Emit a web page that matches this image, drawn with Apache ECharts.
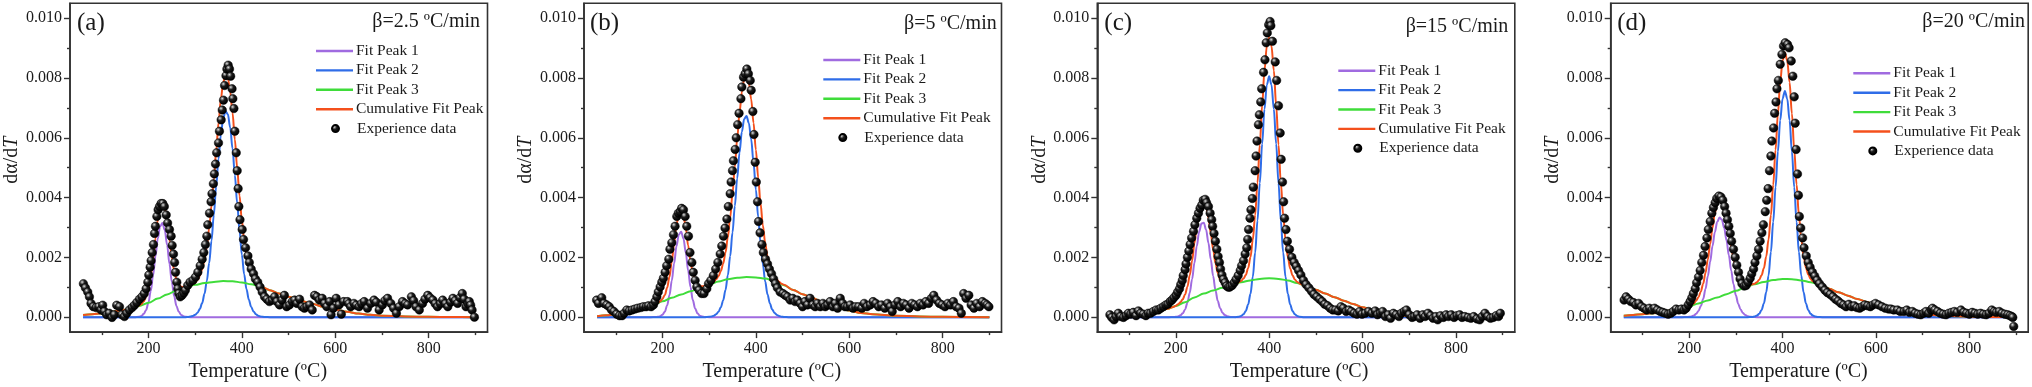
<!DOCTYPE html>
<html><head><meta charset="utf-8">
<script src="https://cdn.jsdelivr.net/npm/echarts@6/dist/echarts.min.js"></script>
<style>html,body{margin:0;padding:0;background:#fff}#c{width:2032px;height:387px}</style>
</head><body><div id="c"></div>
<script>
// ---------------- DATA (values in units of 1e-3, labels show real units) ----------------
const PANEL_LETTERS = ['(a)', '(b)', '(c)', '(d)'];
const PANEL_RATES = ['β=2.5 ºC/min', 'β=5 ºC/min', 'β=15 ºC/min', 'β=20 ºC/min'];
const SERIES_NAMES = ['Fit Peak 1', 'Fit Peak 2', 'Fit Peak 3', 'Cumulative Fit Peak', 'Experience data'];
const X_MAJOR_TICKS = [200, 400, 600, 800];
const X_MINOR_TICKS = [100, 300, 500, 700, 900];
const Y_MAJOR_TICKS = [0, 2, 4, 6, 8, 10];
const Y_MINOR_TICKS = [1, 3, 5, 7, 9];

const A_EXP = [[60.7,1.12],[65,0.98],[70,0.84],[73.6,0.68],[77,0.46],[82,0.35],[88,0.32],[93.6,0.35],[98.6,0.24],[102,0.40],[105.7,0.19],[110.7,0.08],[116,0.13],[122,-0.01],[127,0.08],[132,0.40],[138,0.35],[143,0.08],[148.6,0.02],[153.6,0.13],[159,0.24],[165,0.32],[170,0.40],[175,0.49],[180.7,0.60],[186,0.68],[191,0.79],[195,0.95],[198.6,1.17],[200.7,1.41],[203.6,1.67],[205.7,1.89],[208,2.16],[210.7,2.43],[213,2.80],[215,3.04],[218,3.37],[220.7,3.59],[223.6,3.70],[227,3.80],[230.7,3.80],[234,3.70],[238,3.42],[241,3.15],[245,2.93],[248.6,2.71],[250.7,2.40],[253.6,2.11],[256,1.83],[258,1.50],[260.7,1.17],[263,0.95],[265,0.79],[268,0.68],[272,0.73],[275.7,0.81],[279,0.90],[284,1.06],[289,1.17],[295,1.23],[300.7,1.34],[305.7,1.50],[310.7,1.72],[315,1.94],[318.6,2.16],[322,2.43],[325,2.71],[327,3.09],[330.7,3.48],[334,3.86],[336,4.13],[339,4.46],[341,4.79],[343.6,5.12],[346,5.50],[350,5.83],[352,6.22],[355.7,6.60],[358,6.93],[360.7,7.26],[363,7.75],[366,8.08],[368,8.30],[370.7,8.43],[373.6,8.30],[376,8.06],[379,7.64],[380.7,7.31],[383,6.98],[385,6.22],[388,5.50],[390,4.90],[392,4.30],[393.6,3.70],[396,3.26],[400.7,2.93],[403.6,2.60],[408,2.32],[413,2.05],[416,1.83],[420,1.61],[425,1.45],[429,1.28],[434,1.17],[439,1.01],[443.6,0.84],[448.6,0.68],[453.6,0.60],[459,0.52],[465,0.57],[470,0.68],[475,0.52],[480.7,0.41],[486,0.57],[491,0.73],[496,0.35],[502,0.41],[508,0.52],[513,0.57],[518,0.46],[523.6,0.60],[529,0.35],[534,0.30],[539,0.35],[545,0.41],[550.7,0.24],[555.7,0.73],[560.7,0.68],[566,0.57],[572,0.63],[577,0.46],[582,0.35],[588,0.52],[591,0.08],[596,0.30],[602,0.63],[608,0.41],[613,0.10],[618,0.52],[626,0.52],[629,0.45],[633,0.35],[640,0.46],[645,0.40],[651,0.35],[656,0.45],[662,0.52],[669,0.30],[676,0.46],[683,0.57],[688,0.50],[694,0.24],[701,0.41],[706,0.55],[712,0.63],[719,0.46],[725,0.30],[731,0.13],[737,0.35],[744,0.52],[750,0.45],[755,0.41],[763,0.68],[768,0.55],[773,0.35],[780,0.24],[787,0.46],[792,0.60],[798,0.73],[803,0.65],[809,0.57],[814,0.45],[819,0.35],[825,0.45],[830,0.57],[836,0.45],[841,0.35],[847,0.50],[852,0.63],[857,0.55],[862,0.46],[867,0.65],[872,0.79],[876,0.60],[880,0.35],[884,0.45],[887,0.52],[890,0.40],[893,0.24],[898,0.0]];
const A_P1 = [[60,0],[170,0],[180,0.015],[185,0.04],[190,0.11],[195,0.24],[200,0.49],[205,0.88],[210,1.41],[215,2.04],[220,2.63],[225,3.04],[230,3.15],[235,2.91],[240,2.41],[245,1.78],[250,1.18],[255,0.70],[260,0.37],[265,0.18],[270,0.075],[275,0.03],[280,0.01],[290,0],[900,0]];
const A_P2 = [[60,0],[280,0],[285,0.008],[290,0.018],[295,0.04],[300,0.077],[305,0.15],[310,0.27],[315,0.47],[320,0.78],[325,1.21],[330,1.81],[335,2.56],[340,3.43],[345,4.37],[350,5.30],[355,6.09],[360,6.65],[365,6.89],[370,6.79],[375,6.35],[380,5.64],[385,4.75],[390,3.81],[395,2.89],[400,2.09],[405,1.43],[410,0.93],[415,0.58],[420,0.34],[425,0.19],[430,0.10],[435,0.05],[440,0.024],[445,0.011],[450,0.005],[460,0],[900,0]];
const A_P3 = [[60,0.07],[80,0.10],[100,0.13],[120,0.17],[140,0.22],[160,0.28],[180,0.37],[200,0.48],[220,0.62],[240,0.76],[260,0.89],[280,0.99],[300,1.08],[320,1.14],[340,1.18],[360,1.21],[380,1.20],[400,1.16],[420,1.10],[440,1.02],[460,0.90],[480,0.79],[500,0.68],[525,0.56],[550,0.45],[575,0.35],[600,0.25],[625,0.18],[650,0.12],[675,0.08],[700,0.05],[750,0.02],[800,0.01],[850,0.003],[900,0]];
const A_CUM = [[60,0.07],[80,0.10],[100,0.13],[120,0.17],[140,0.22],[160,0.28],[170,0.32],[180,0.39],[185,0.44],[190,0.53],[195,0.69],[200,0.97],[205,1.40],[210,1.96],[215,2.63],[220,3.25],[225,3.70],[230,3.84],[235,3.64],[240,3.17],[245,2.57],[250,2.01],[255,1.56],[260,1.26],[265,1.10],[270,1.02],[275,1.00],[280,1.00],[285,1.02],[290,1.06],[295,1.10],[300,1.16],[305,1.25],[310,1.38],[315,1.60],[320,1.92],[325,2.36],[330,2.97],[335,3.73],[340,4.61],[345,5.56],[350,6.50],[355,7.29],[360,7.86],[365,8.10],[370,8.00],[375,7.55],[380,6.84],[385,5.94],[390,4.99],[395,4.06],[400,3.25],[405,2.58],[410,2.06],[415,1.70],[420,1.44],[425,1.27],[430,1.16],[435,1.09],[440,1.04],[445,1.00],[450,0.97],[455,0.93],[460,0.90],[480,0.79],[500,0.68],[525,0.56],[550,0.45],[575,0.35],[600,0.25],[625,0.18],[650,0.12],[675,0.08],[700,0.05],[750,0.02],[800,0.01],[850,0.003],[900,0]];

const B_EXP = [[59,0.57],[63,0.46],[70,0.65],[75,0.46],[80.7,0.41],[86,0.35],[91,0.24],[96,0.19],[102,0.10],[108,0.05],[113.6,0.05],[118,0.13],[123.6,0.24],[129,0.21],[135,0.24],[141,0.27],[147,0.30],[153.6,0.32],[159,0.35],[165,0.35],[170,0.38],[175.7,0.35],[180.7,0.41],[184,0.52],[188,0.68],[191,0.84],[195,1.01],[198.6,1.17],[202,1.30],[205.7,1.50],[209,1.72],[213.6,1.94],[216,2.27],[220,2.49],[223.6,2.76],[227,3.04],[230.7,3.37],[234,3.48],[238,3.53],[241,3.64],[245,3.59],[248.6,3.37],[252,3.04],[255.7,2.71],[259,2.16],[263,1.83],[266,1.50],[270,1.23],[273.6,1.01],[278.6,0.90],[284,0.79],[289,0.79],[295,0.95],[298.6,1.12],[303.6,1.23],[309,1.39],[314,1.61],[318.6,1.83],[323.6,2.11],[327,2.38],[330.7,2.71],[334,2.98],[338,3.28],[341,3.70],[345,4.13],[347,4.52],[350,4.90],[352,5.23],[355.7,5.61],[358,6.00],[361,6.44],[364,6.82],[368,7.31],[370,7.70],[373.6,8.03],[377,8.14],[380.7,8.30],[384,8.14],[388,7.92],[390,7.59],[393.6,6.88],[396,6.11],[398.6,5.18],[401,4.52],[403.6,3.86],[405.7,3.20],[409,2.82],[413,2.43],[416,2.16],[420.7,1.94],[425,1.78],[429,1.61],[433.6,1.45],[438,1.28],[442,1.12],[446,0.98],[452,0.84],[458,0.79],[463,0.73],[468,0.68],[473.6,0.57],[479,0.63],[484,0.52],[489,0.57],[495,0.46],[500,0.35],[505,0.52],[510.7,0.41],[516,0.63],[522,0.41],[527,0.35],[532,0.46],[538,0.35],[543.6,0.46],[548.6,0.35],[553.6,0.41],[559,0.52],[565,0.35],[570,0.46],[575,0.30],[580.7,0.63],[586,0.46],[591,0.35],[596,0.35],[602,0.41],[608,0.30],[613.6,0.35],[620,0.35],[627,0.30],[632,0.46],[638,0.35],[645,0.41],[651,0.52],[657,0.46],[663,0.35],[669,0.41],[676,0.30],[682,0.46],[688,0.35],[692,0.19],[698,0.41],[704,0.52],[710,0.35],[716,0.46],[722,0.41],[728,0.30],[734,0.46],[740,0.41],[746,0.35],[752,0.46],[758,0.41],[764,0.52],[770,0.46],[776,0.63],[781,0.73],[787,0.57],[793,0.46],[799,0.41],[805,0.35],[811,0.46],[817,0.41],[823,0.52],[829,0.35],[835,0.30],[840,0.13],[845,0.79],[850,0.63],[856,0.73],[861,0.41],[867,0.30],[873,0.46],[879,0.35],[885,0.52],[891,0.46],[895,0.41],[899,0.35]];
const B_P1 = [[60,0],[175,0],[185,0.003],[190,0.01],[195,0.03],[200,0.08],[205,0.18],[210,0.39],[215,0.73],[220,1.22],[225,1.80],[230,2.37],[235,2.76],[240,2.86],[245,2.63],[250,2.15],[255,1.56],[260,1.01],[265,0.57],[270,0.29],[275,0.13],[280,0.05],[285,0.02],[290,0.006],[300,0],[900,0]];
const B_P2 = [[60,0],[290,0],[300,0.011],[305,0.024],[310,0.049],[315,0.098],[320,0.18],[325,0.33],[330,0.56],[335,0.91],[340,1.40],[345,2.04],[350,2.83],[355,3.72],[360,4.64],[365,5.50],[370,6.20],[375,6.63],[380,6.73],[385,6.49],[390,5.95],[395,5.17],[400,4.27],[405,3.35],[410,2.50],[415,1.77],[420,1.19],[425,0.76],[430,0.46],[435,0.26],[440,0.14],[445,0.075],[450,0.037],[455,0.017],[460,0.007],[470,0],[900,0]];
const B_P3 = [[60,0.03],[80,0.06],[100,0.10],[120,0.15],[140,0.21],[160,0.29],[180,0.40],[200,0.53],[220,0.65],[240,0.76],[260,0.87],[280,0.98],[300,1.09],[320,1.19],[340,1.27],[360,1.32],[380,1.34],[400,1.33],[420,1.29],[440,1.20],[460,1.07],[480,0.91],[500,0.77],[520,0.65],[540,0.53],[560,0.41],[580,0.30],[600,0.22],[625,0.14],[650,0.10],[700,0.05],[750,0.02],[800,0.01],[900,0]];
const B_CUM = [[60,0.03],[80,0.06],[100,0.10],[120,0.15],[140,0.21],[160,0.29],[170,0.34],[180,0.40],[185,0.43],[190,0.48],[195,0.53],[200,0.61],[205,0.74],[210,0.98],[215,1.35],[220,1.87],[225,2.48],[230,3.08],[235,3.49],[240,3.62],[245,3.42],[250,2.97],[255,2.40],[260,1.88],[265,1.47],[270,1.22],[275,1.08],[280,1.03],[285,1.03],[290,1.05],[295,1.06],[300,1.10],[305,1.14],[310,1.19],[315,1.27],[320,1.37],[325,1.54],[330,1.79],[335,2.16],[340,2.67],[345,3.32],[350,4.13],[355,5.03],[360,5.96],[365,6.83],[370,7.53],[375,7.97],[380,8.07],[385,7.83],[390,7.29],[395,6.50],[400,5.60],[405,4.67],[410,3.81],[415,3.07],[420,2.48],[425,2.03],[430,1.71],[435,1.48],[440,1.34],[445,1.25],[450,1.18],[455,1.12],[460,1.08],[480,0.91],[500,0.77],[520,0.65],[540,0.53],[560,0.41],[580,0.30],[600,0.22],[625,0.14],[650,0.10],[700,0.05],[750,0.02],[800,0.01],[900,0]];

const C_EXP = [[59,0.08],[63,-0.01],[68,-0.09],[72,0.02],[77,0.13],[82,0.02],[88,-0.01],[93.6,0.05],[98.6,0.13],[103.6,0.10],[109,0.16],[115,0.05],[120,0.21],[125,0.13],[130.7,0.10],[136,0.05],[141,0.13],[146,0.13],[152,0.19],[158,0.24],[163,0.24],[168,0.30],[173.6,0.35],[178.6,0.41],[183,0.43],[188,0.52],[192,0.57],[196,0.65],[200.7,0.73],[204,0.84],[208,0.95],[210.7,1.09],[214,1.23],[216,1.39],[220,1.59],[222,1.78],[225,2.00],[228,2.21],[230.7,2.43],[234,2.65],[238,2.87],[241,3.09],[245,3.31],[248.6,3.48],[252,3.64],[255.7,3.75],[259,3.91],[263,3.94],[266,3.83],[270,3.70],[273.6,3.48],[277,3.26],[279,3.04],[282,2.80],[285,2.54],[288,2.27],[290.7,2.03],[293.6,1.83],[296,1.61],[299,1.41],[302,1.26],[305.7,1.15],[309,1.04],[313,1.00],[316,1.01],[320.7,1.06],[325,1.15],[329,1.26],[333.6,1.39],[338,1.56],[341,1.72],[345,1.89],[348.6,2.11],[352,2.32],[354,2.60],[356,2.93],[359,3.31],[361,3.59],[364,3.97],[366,4.35],[370,4.90],[372,5.39],[374,5.89],[377,6.44],[379,6.77],[382,7.20],[384,7.64],[388,8.19],[391,8.61],[393.6,9.18],[396,9.51],[399,9.78],[402,9.89],[403.6,9.75],[407,9.23],[413,8.54],[416,7.92],[420,7.07],[423.6,6.16],[425.7,5.28],[428.6,4.52],[431,3.86],[433,3.31],[436,2.93],[439,2.54],[443.6,2.27],[448.6,2.00],[453.6,1.83],[458,1.70],[463,1.56],[468,1.41],[473.6,1.23],[479,1.09],[485,0.98],[490.7,0.87],[496,0.76],[502,0.68],[508,0.60],[513.6,0.52],[519,0.43],[525,0.38],[530.7,0.30],[536,0.24],[542,0.24],[548,0.21],[553.6,0.35],[559,0.30],[565,0.19],[570.7,0.24],[576,0.19],[582,0.13],[588,0.10],[593.6,0.19],[599,0.10],[605.7,0.13],[613,0.19],[620,0.13],[627,0.21],[632,0.08],[638,0.13],[643,0.19],[649,0.02],[655,0.08],[660,-0.04],[666,0.13],[672,0.08],[678,0.02],[683,0.13],[689,0.19],[694,0.24],[700,0.08],[706,-0.01],[711,0.02],[717,0.08],[723,-0.04],[729,0.08],[734,0.02],[740,0.13],[746,0.05],[751,-0.04],[757,0.02],[761,-0.09],[767,0.05],[773,-0.01],[779,0.08],[784,0.02],[790,0.08],[796,-0.01],[802,0.05],[808,0.08],[813,-0.01],[819,0.02],[826,-0.01],[832,-0.04],[838,0.02],[845,-0.06],[851,-0.09],[856,0.02],[862,0.13],[868,0.02],[874,-0.04],[880,-0.01],[886,0.05],[891,0.02],[895,0.13]];
const C_P1 = [[60,0],[185,0],[195,0.003],[200,0.01],[205,0.025],[210,0.06],[215,0.13],[220,0.26],[225,0.48],[230,0.82],[235,1.27],[240,1.82],[245,2.37],[250,2.85],[255,3.13],[260,3.16],[265,2.92],[270,2.48],[275,1.93],[280,1.38],[285,0.90],[290,0.54],[295,0.30],[300,0.15],[305,0.07],[310,0.03],[315,0.011],[320,0.004],[330,0],[900,0]];
const C_P2 = [[60,0],[325,0],[335,0.017],[340,0.042],[345,0.097],[350,0.21],[355,0.42],[360,0.78],[365,1.35],[370,2.16],[375,3.23],[380,4.49],[385,5.80],[390,6.96],[395,7.77],[400,8.06],[405,7.77],[410,6.96],[415,5.80],[420,4.49],[425,3.23],[430,2.16],[435,1.35],[440,0.78],[445,0.42],[450,0.21],[455,0.097],[460,0.042],[465,0.017],[475,0],[900,0]];
const C_P3 = [[60,0.02],[80,0.03],[100,0.05],[120,0.08],[140,0.12],[160,0.19],[180,0.27],[200,0.37],[220,0.50],[240,0.66],[260,0.79],[280,0.89],[300,0.98],[320,1.08],[340,1.17],[360,1.23],[380,1.28],[400,1.30],[420,1.28],[440,1.23],[460,1.14],[480,1.03],[500,0.92],[520,0.79],[540,0.67],[560,0.55],[580,0.44],[600,0.33],[620,0.24],[640,0.16],[660,0.10],[680,0.06],[700,0.04],[750,0.01],[800,0],[900,0]];
const C_CUM = [[60,0.02],[80,0.03],[100,0.05],[120,0.08],[140,0.12],[160,0.19],[180,0.27],[185,0.29],[190,0.32],[195,0.34],[200,0.38],[205,0.43],[210,0.50],[215,0.60],[220,0.76],[225,1.02],[230,1.40],[235,1.89],[240,2.48],[245,3.06],[250,3.58],[255,3.89],[260,3.95],[265,3.74],[270,3.32],[275,2.80],[280,2.27],[285,1.81],[290,1.48],[295,1.26],[300,1.13],[305,1.08],[310,1.06],[315,1.07],[320,1.08],[325,1.10],[330,1.13],[335,1.17],[340,1.21],[345,1.29],[350,1.41],[355,1.64],[360,2.01],[365,2.59],[370,3.42],[375,4.50],[380,5.77],[385,7.09],[390,8.25],[395,9.07],[400,9.36],[405,9.07],[410,8.25],[415,7.09],[420,5.77],[425,4.50],[430,3.42],[435,2.59],[440,2.01],[445,1.63],[450,1.40],[455,1.26],[460,1.18],[465,1.13],[470,1.09],[475,1.06],[480,1.03],[500,0.92],[520,0.79],[540,0.67],[560,0.55],[580,0.44],[600,0.33],[620,0.24],[640,0.16],[660,0.10],[680,0.06],[700,0.04],[750,0.01],[800,0],[900,0]];

const D_EXP = [[60.7,0.57],[65,0.68],[70,0.60],[75,0.52],[80.7,0.49],[86,0.41],[92,0.46],[98,0.35],[103.6,0.30],[109,0.24],[115,0.30],[120.7,0.24],[126,0.30],[132,0.24],[138,0.19],[143.6,0.16],[149,0.13],[155,0.10],[160.7,0.13],[166,0.19],[172,0.27],[178,0.24],[183.6,0.27],[189,0.24],[193.6,0.30],[198,0.41],[202,0.52],[205.7,0.65],[209,0.79],[213,0.95],[216,1.15],[220,1.34],[223.6,1.56],[227,1.83],[230.7,2.07],[234,2.36],[238,2.65],[241,2.93],[245,3.20],[248.6,3.48],[252,3.67],[255.7,3.83],[259,3.97],[263.6,4.05],[268,4.02],[272,3.91],[276,3.70],[279,3.48],[282,3.26],[285,3.04],[288,2.80],[291,2.54],[295,2.27],[298.6,2.00],[302,1.74],[305.7,1.50],[309,1.28],[313,1.12],[318,1.04],[322,1.06],[326,1.17],[330.7,1.30],[334,1.45],[338,1.61],[341,1.83],[345,2.05],[348.6,2.27],[352,2.54],[355.7,2.82],[359,3.09],[363,3.53],[366,3.91],[369,4.30],[372,4.90],[375,5.39],[377,5.89],[380.7,6.33],[383,6.82],[386,7.20],[388,7.64],[391,7.92],[395,8.46],[398.6,8.79],[402,9.07],[405.7,9.18],[410.7,9.12],[414,9.01],[418.6,8.57],[422,8.06],[425,7.37],[427,6.49],[429,5.61],[432,4.79],[434,4.08],[436,3.37],[439,2.98],[443,2.65],[446,2.32],[450.7,2.05],[455,1.83],[459,1.67],[464,1.50],[469,1.37],[474,1.23],[479,1.12],[485,1.01],[490.7,0.90],[496,0.82],[502,0.76],[508,0.68],[513.6,0.60],[519,0.54],[525,0.46],[530.7,0.41],[536,0.35],[542,0.43],[548,0.35],[553.6,0.38],[559,0.32],[565,0.30],[570.7,0.35],[576,0.41],[582,0.38],[588,0.35],[593.6,0.41],[599,0.46],[605.7,0.41],[613,0.35],[620,0.30],[627,0.27],[632,0.27],[638,0.24],[646,0.24],[652,0.19],[660,0.19],[666,0.24],[672,0.16],[678,0.19],[684,0.13],[690,0.10],[696,0.08],[702,0.13],[707,0.19],[713,0.13],[718,0.24],[721,0.30],[726,0.24],[732,0.19],[738,0.13],[744,0.10],[750,0.08],[756,0.13],[762,0.16],[768,0.19],[774,0.16],[782,0.24],[788,0.16],[794,0.13],[800,0.10],[806,0.16],[812,0.13],[818,0.10],[824,0.13],[830,0.10],[836,0.08],[842,0.13],[848,0.24],[853,0.19],[858,0.16],[864,0.19],[870,0.13],[876,0.10],[882,0.08],[887,0.05],[891,0.02],[893,-0.01],[895,-0.31]];
const D_P1 = [[60,0],[185,0],[195,0.004],[200,0.011],[205,0.025],[210,0.054],[215,0.11],[220,0.21],[225,0.37],[230,0.61],[235,0.94],[240,1.37],[245,1.86],[250,2.38],[255,2.84],[260,3.18],[265,3.33],[270,3.26],[275,2.99],[280,2.57],[285,2.07],[290,1.56],[295,1.10],[300,0.73],[305,0.45],[310,0.26],[315,0.14],[320,0.072],[325,0.034],[330,0.015],[335,0.006],[345,0],[900,0]];
const D_P2 = [[60,0],[325,0],[335,0.009],[340,0.022],[345,0.052],[350,0.11],[355,0.24],[360,0.46],[365,0.83],[370,1.39],[375,2.18],[380,3.19],[385,4.35],[390,5.54],[395,6.59],[400,7.31],[405,7.57],[410,7.31],[415,6.59],[420,5.54],[425,4.35],[430,3.19],[435,2.18],[440,1.39],[445,0.83],[450,0.46],[455,0.24],[460,0.11],[465,0.052],[470,0.022],[475,0.009],[485,0],[900,0]];
const D_P3 = [[60,0.05],[80,0.07],[100,0.10],[120,0.13],[140,0.17],[160,0.22],[180,0.28],[200,0.36],[220,0.46],[240,0.56],[260,0.66],[280,0.77],[300,0.88],[320,1.00],[340,1.10],[360,1.18],[380,1.24],[400,1.28],[420,1.27],[440,1.23],[460,1.17],[480,1.08],[500,0.95],[520,0.83],[540,0.72],[560,0.61],[580,0.51],[600,0.41],[625,0.31],[650,0.22],[675,0.15],[700,0.10],[750,0.04],[800,0.015],[850,0.005],[900,0]];
const D_CUM = [[60,0.05],[80,0.07],[100,0.10],[120,0.13],[140,0.17],[160,0.22],[180,0.28],[185,0.30],[190,0.32],[195,0.34],[200,0.37],[205,0.42],[210,0.46],[215,0.55],[220,0.67],[225,0.86],[230,1.12],[235,1.48],[240,1.93],[245,2.45],[250,2.99],[255,3.48],[260,3.84],[265,4.02],[270,3.98],[275,3.73],[280,3.34],[285,2.87],[290,2.38],[295,1.95],[300,1.61],[305,1.36],[310,1.20],[315,1.11],[320,1.07],[325,1.06],[330,1.07],[335,1.10],[340,1.12],[345,1.17],[350,1.25],[355,1.40],[360,1.64],[365,2.03],[370,2.60],[375,3.41],[380,4.43],[385,5.60],[390,6.80],[395,7.86],[400,8.59],[405,8.85],[410,8.59],[415,7.86],[420,6.81],[425,5.61],[430,4.44],[435,3.42],[440,2.62],[445,2.05],[450,1.66],[455,1.43],[460,1.28],[465,1.20],[470,1.15],[475,1.11],[480,1.08],[500,0.95],[520,0.83],[540,0.72],[560,0.61],[580,0.51],[600,0.41],[625,0.31],[650,0.22],[675,0.15],[700,0.10],[750,0.04],[800,0.015],[850,0.005],[900,0]];

const PANEL_DATA = [
  [A_P1, A_P2, A_P3, A_CUM, A_EXP],
  [B_P1, B_P2, B_P3, B_CUM, B_EXP],
  [C_P1, C_P2, C_P3, C_CUM, C_EXP],
  [D_P1, D_P2, D_P3, D_CUM, D_EXP]
];

// ---------------- LAYOUT & STYLE ----------------
const SERIF = "'Liberation Serif', 'Times New Roman', serif";
const AX = '#333333';
const TXT = '#1a1a1a';
const LINE_COLORS = ['#a06be0', '#2f6de8', '#3fdc3a', '#f4501c'];
const GRID_LEFT = [70, 584, 1097.3, 1610.7];
const GRID_TOP = 3.3, GRID_W = 417.5, GRID_H = 334;
const X_MIN = 32, X_MAX = 926, Y_MIN = -0.5, Y_MAX = 10.5;
const LETTER_X = [77, 590, 1104.3, 1617.2];
const LETTER_Y = [11, 11, 11, 11];
const RATE_RIGHT = [480, 996.7, 1508.3, 2025];
const RATE_Y = [12, 14, 17, 12];
const XNAME_SHIFT = [21, 21, 7, 21];
const LEGEND_LEFT = [316, 823.3, 1338.3, 1853.3];
const LEGEND_ROW1 = [51, 60, 70.7, 73.3];
const ROW_STEP = 19.4;
const LINE_ICON = 'path://M0,0H37V2.4H0Z';

const ballColor = {
  type: 'radial', x: 0.36, y: 0.32, r: 0.62,
  colorStops: [
    { offset: 0, color: '#e8e8e8' },
    { offset: 0.18, color: '#8a8a8a' },
    { offset: 0.45, color: '#1c1c1c' },
    { offset: 1, color: '#000000' }
  ]
};

const grids = [], xAxes = [], yAxes = [], series = [], legends = [], graphics = [];
for (let i = 0; i < 4; i++) {
  grids.push({ left: GRID_LEFT[i], top: GRID_TOP, width: GRID_W, height: GRID_H,
    show: true, borderColor: AX, borderWidth: 1.6, backgroundColor: '#fff', containLabel: false });
  // main x
  xAxes.push({ gridIndex: i, type: 'value', min: X_MIN, max: X_MAX, position: 'bottom',
    axisLine: { show: true, onZero: false, lineStyle: { color: AX, width: 1.6 } },
    axisTick: { show: true, length: 6, customValues: X_MAJOR_TICKS, lineStyle: { color: AX, width: 1.4 } },
    axisLabel: { customValues: X_MAJOR_TICKS, margin: 9, fontFamily: SERIF, fontSize: 16, color: TXT },
    splitLine: { show: false },
    name: 'Temperature (ºC)', nameLocation: 'middle', nameGap: 25,
    nameTextStyle: { fontFamily: SERIF, fontSize: 20, color: TXT, padding: [0, 2 * XNAME_SHIFT[i], 0, 0] } });
  // minor x
  xAxes.push({ gridIndex: i, type: 'value', min: X_MIN, max: X_MAX, position: 'bottom',
    axisLine: { show: false, onZero: false },
    axisTick: { show: true, length: 3, customValues: X_MINOR_TICKS, lineStyle: { color: AX, width: 1.4 } },
    axisLabel: { show: false }, splitLine: { show: false } });
  // main y
  yAxes.push({ gridIndex: i, type: 'value', min: Y_MIN, max: Y_MAX, position: 'left',
    axisLine: { show: true, onZero: false, lineStyle: { color: AX, width: 1.6 } },
    axisTick: { show: true, length: 6, customValues: Y_MAJOR_TICKS, lineStyle: { color: AX, width: 1.4 } },
    axisLabel: { customValues: Y_MAJOR_TICKS, margin: 8, fontFamily: SERIF, fontSize: 16, color: TXT,
      formatter: v => (v / 1000).toFixed(3) },
    splitLine: { show: false },
    name: 'dα/d{it|T}', nameLocation: 'middle', nameGap: 46, nameRotate: 90,
    nameTextStyle: { fontFamily: SERIF, fontSize: 20, color: TXT, padding: [0, 0, 0, 15],
      rich: { it: { fontFamily: SERIF, fontSize: 20, fontStyle: 'italic', color: TXT } } } });
  // minor y
  yAxes.push({ gridIndex: i, type: 'value', min: Y_MIN, max: Y_MAX, position: 'left',
    axisLine: { show: false, onZero: false },
    axisTick: { show: true, length: 3, customValues: Y_MINOR_TICKS, lineStyle: { color: AX, width: 1.4 } },
    axisLabel: { show: false }, splitLine: { show: false } });

  const d = PANEL_DATA[i];
  for (let k = 0; k < 4; k++) {
    series.push({ type: 'line', name: SERIES_NAMES[k], xAxisIndex: 2 * i, yAxisIndex: 2 * i,
      data: d[k], symbol: 'none', showSymbol: false, smooth: 0.35, smoothMonotone: 'x',
      lineStyle: { color: LINE_COLORS[k], width: 2 }, itemStyle: { color: LINE_COLORS[k] },
      z: 2 + k, silent: true });
  }
  series.push({ type: 'scatter', name: SERIES_NAMES[4], xAxisIndex: 2 * i, yAxisIndex: 2 * i,
    data: d[4], symbol: 'circle', symbolSize: 8.5,
    itemStyle: { color: ballColor, borderColor: '#000', borderWidth: 0.5, opacity: 1 }, z: 8, silent: true });

  legends.push({ orient: 'vertical', left: LEGEND_LEFT[i], top: LEGEND_ROW1[i] - 8, padding: 0,
    itemWidth: 37, itemHeight: 14, itemGap: ROW_STEP - 16, selectedMode: false,
    data: SERIES_NAMES.slice(0, 4).map(n => ({ name: n, icon: LINE_ICON })),
    textStyle: { fontFamily: SERIF, fontSize: 15.5, lineHeight: 16, color: TXT, padding: [0, 0, 0, -2] } });
  legends.push({ orient: 'vertical', left: LEGEND_LEFT[i] + 15, top: LEGEND_ROW1[i] + 4 * ROW_STEP - 8, padding: 0,
    itemWidth: 7, itemHeight: 7, selectedMode: false, data: [{ name: SERIES_NAMES[4], icon: 'circle' }],
    textStyle: { fontFamily: SERIF, fontSize: 15.5, lineHeight: 16, color: TXT, padding: [0, 0, 0, 13] } });

  graphics.push({ type: 'text', x: LETTER_X[i], y: LETTER_Y[i], z: 20,
    style: { text: PANEL_LETTERS[i], font: '25px ' + SERIF, fill: TXT, align: 'left', verticalAlign: 'top' } });
  graphics.push({ type: 'text', x: RATE_RIGHT[i], y: RATE_Y[i], z: 20,
    style: { text: PANEL_RATES[i], font: '20px ' + SERIF, fill: TXT, align: 'right', verticalAlign: 'top' } });
}

const chart = echarts.init(document.getElementById('c'), null, { renderer: 'canvas' });
chart.setOption({
  animation: false,
  backgroundColor: '#ffffff',
  grid: grids, xAxis: xAxes, yAxis: yAxes, series: series, legend: legends, graphic: graphics
});
</script></body></html>
